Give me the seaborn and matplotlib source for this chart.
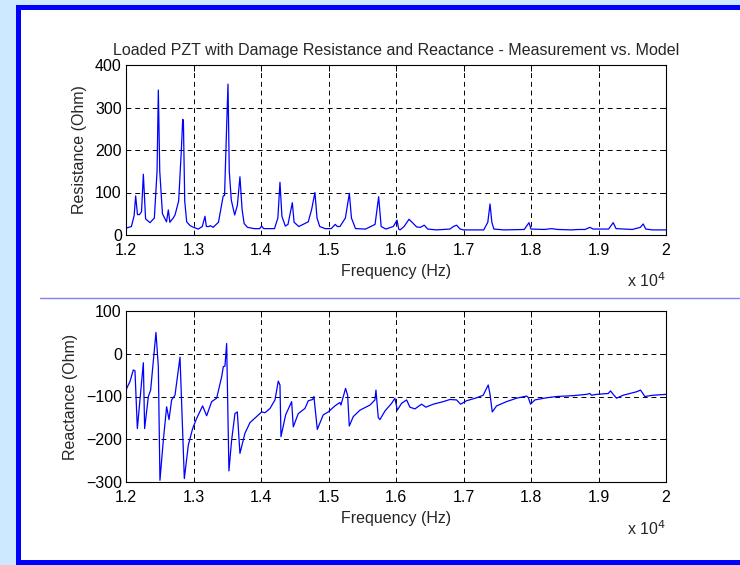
import matplotlib
matplotlib.use("Agg")
import matplotlib.pyplot as plt
import pandas as pd
import seaborn as sns
from matplotlib.patches import Rectangle
from matplotlib.lines import Line2D

# ---- data ----
res_freq = [12000, 12080, 12120, 12143, 12170, 12200, 12230, 12257, 12290, 12356,
            12420, 12460, 12479, 12500, 12540, 12600, 12627, 12650, 12700, 12726,
            12780, 12820, 12840, 12850, 12870, 12899, 12950, 13000, 13071, 13130,
            13170, 13190, 13230, 13250, 13290, 13370, 13440, 13460, 13490, 13511,
            13530, 13560, 13610, 13650, 13688, 13720, 13750, 13800, 13900, 13980,
            14010, 14040, 14200, 14250, 14281, 14310, 14360, 14400, 14464, 14490,
            14560, 14700, 14750, 14799, 14830, 14870, 14950, 15040, 15100, 15130,
            15170, 15250, 15309, 15340, 15400, 15550, 15690, 15743, 15780, 15850,
            15960, 16015, 16040, 16060, 16120, 16193, 16250, 16306, 16360, 16419,
            16470, 16600, 16800, 16850, 16898, 16950, 17000, 17300, 17360, 17393,
            17420, 17450, 17600, 17900, 17970, 18000, 18200, 18300, 18400, 18600,
            18700, 18800, 18873, 18920, 19150, 19218, 19260, 19500, 19620, 19662,
            19700, 19800, 20000]
res_ohm = [16, 20, 45, 92, 48, 48, 55, 143, 38, 29,
           40, 150, 341, 150, 50, 31, 59, 30, 40, 47,
           80, 200, 272, 270, 80, 31, 22, 18, 14, 20,
           44, 20, 20, 22, 18, 30, 92, 93, 250, 355,
           150, 82, 47, 70, 137, 60, 27, 18, 15, 15,
           21, 15, 15, 40, 124, 44, 21, 25, 76, 30,
           20, 31, 60, 100, 40, 20, 15, 15, 25, 20,
           20, 40, 98, 40, 15, 14, 25, 90, 20, 14,
           20, 35, 14, 12, 20, 37, 28, 19, 18, 23,
           14, 12, 14, 20, 23, 14, 12, 12, 30, 73,
           30, 14, 12, 13, 29, 14, 13, 15, 13, 12,
           13, 13, 18, 14, 14, 29, 15, 13, 18, 26,
           14, 12, 12]

rea_freq = [12000, 12010, 12059, 12108, 12133, 12168, 12257, 12276, 12331, 12365,
            12444, 12479, 12503, 12553, 12602, 12637, 12676, 12726, 12800, 12864,
            12923, 12987, 13047, 13135, 13195, 13269, 13343, 13417, 13442, 13466,
            13491, 13525, 13565, 13614, 13649, 13688, 13762, 13837, 13935, 14009,
            14059, 14133, 14207, 14256, 14281, 14296, 14365, 14454, 14478, 14552,
            14651, 14700, 14765, 14784, 14834, 14922, 14997, 15095, 15169, 15184,
            15253, 15283, 15308, 15367, 15466, 15614, 15688, 15703, 15737, 15762,
            15836, 15935, 15984, 16019, 16083, 16157, 16206, 16280, 16379, 16443,
            16552, 16700, 16799, 16897, 16957, 17045, 17194, 17292, 17366, 17391,
            17426, 17490, 17638, 17786, 17934, 17959, 17993, 18058, 18230, 18378,
            18625, 18823, 18872, 18897, 18971, 19144, 19178, 19218, 19267, 19366,
            19563, 19623, 19687, 19810, 20000]
rea_ohm = [-90, -81, -65, -38, -40, -175, -21, -175, -100, -85,
           50, -30, -296, -202, -124, -154, -108, -97, -8, -292,
           -214, -175, -151, -122, -145, -112, -104, -54, -30, -29,
           24, -274, -202, -140, -136, -233, -186, -161, -147, -136,
           -138, -128, -108, -64, -73, -194, -143, -112, -171, -140,
           -128, -110, -107, -100, -177, -143, -136, -122, -114, -120,
           -81, -97, -169, -147, -132, -120, -108, -85, -149, -154,
           -134, -116, -104, -132, -116, -108, -125, -129, -118, -125,
           -118, -112, -107, -108, -118, -110, -103, -97, -73, -93,
           -136, -122, -112, -104, -99, -102, -118, -108, -103, -100,
           -98, -95, -93, -97, -95, -93, -87, -95, -104, -97,
           -89, -85, -100, -97, -95]

x_ticks = [12000, 13000, 14000, 15000, 16000, 17000, 18000, 19000, 20000]
x_tick_labels = ["1.2", "1.3", "1.4", "1.5", "1.6", "1.7", "1.8", "1.9", "2"]
res_ticks = [0, 100, 200, 300, 400]
rea_ticks = [-300, -200, -100, 0, 100]

title = "Loaded PZT with Damage Resistance and Reactance - Measurement vs. Model"

FS = 11.5

# ---- figure ----
sns.set_theme(style="white")
plt.rcParams["font.family"] = ["Liberation Sans", "DejaVu Sans"]

W, H = 740, 565
fig = plt.figure(figsize=(W / 100, H / 100), dpi=100, facecolor="#cce9ff")
fig.patches.append(Rectangle((16 / W, 0), 724 / W, 560 / H, transform=fig.transFigure,
                             facecolor="#0000ff", edgecolor="none", zorder=-2))
fig.patches.append(Rectangle((21 / W, 5 / H), 719 / W, 550 / H, transform=fig.transFigure,
                             facecolor="white", edgecolor="none", zorder=-1))
fig.lines.append(Line2D([40 / W, 1.0], [1 - 298 / H] * 2, transform=fig.transFigure,
                        color="#8080ff", lw=1.0))

ax1 = fig.add_axes([126 / W, (H - 235) / H, 540 / W, 170 / H])
ax2 = fig.add_axes([126 / W, (H - 482) / H, 540 / W, 171 / H])

df_res = pd.DataFrame({"freq": res_freq, "ohm": res_ohm})
df_rea = pd.DataFrame({"freq": rea_freq, "ohm": rea_ohm})

sns.lineplot(data=df_res, x="freq", y="ohm", ax=ax1, color="#0000ff", lw=0.9, estimator=None)
sns.lineplot(data=df_rea, x="freq", y="ohm", ax=ax2, color="#0000ff", lw=0.9, estimator=None)


def style(ax, yticks, ylabel):
    ax.set_facecolor("white")
    ax.set_xlim(x_ticks[0], x_ticks[-1])
    ax.set_ylim(yticks[0], yticks[-1])
    ax.set_xticks(x_ticks)
    ax.set_xticklabels(x_tick_labels)
    ax.set_yticks(yticks)
    ax.grid(True, color="black", linestyle=(0, (5, 4)), linewidth=0.7)
    ax.tick_params(direction="in", top=True, right=True, length=4, width=0.7,
                   labelsize=FS, colors="black")
    ax.tick_params(axis="x", pad=6)
    ax.tick_params(axis="y", pad=3)
    for s in ax.spines.values():
        s.set_visible(True)
        s.set_color("black")
        s.set_linewidth(0.8)
    ax.set_xlabel("Frequency (Hz)", fontsize=FS, labelpad=4)
    ax.set_ylabel(ylabel, fontsize=FS, labelpad=6)
    ax.text(1.0, -0.27, r"x 10$^4$", transform=ax.transAxes, ha="right", va="center",
            fontsize=FS)


style(ax1, res_ticks, "Resistance (Ohm)")
style(ax2, rea_ticks, "Reactance (Ohm)")
ax1.set_title(title, fontsize=FS, pad=7)

fig.savefig("out.png", dpi=100, facecolor=fig.get_facecolor())
